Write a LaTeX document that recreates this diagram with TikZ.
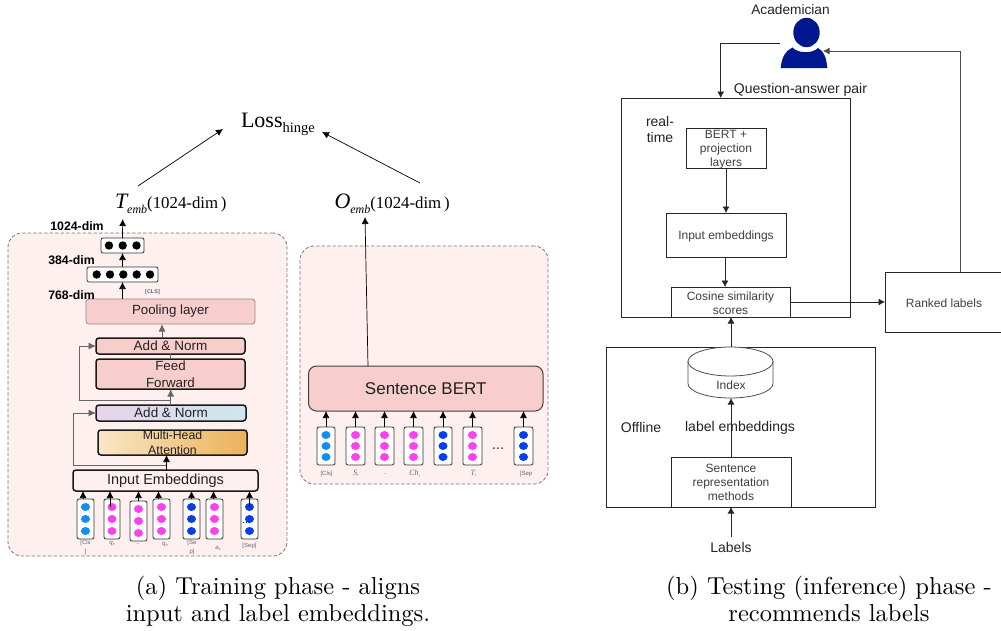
\documentclass[tikz,border=0pt]{standalone}
\usepackage{fontspec}
\setsansfont{Liberation Sans}
\renewcommand{\familydefault}{\sfdefault}
\newfontfamily\serifx{Liberation Serif}
\usetikzlibrary{arrows.meta,shapes.geometric}
\definecolor{panel}{HTML}{FFF0F0}
\definecolor{panelline}{HTML}{777777}
\definecolor{pinkbox}{HTML}{F8CECC}
\definecolor{cdotA}{HTML}{108FF0}
\definecolor{cdotB}{HTML}{FF40F0}
\definecolor{cdotC}{HTML}{0A3CF0}
\definecolor{txt}{HTML}{222222}
\definecolor{tinytxt}{HTML}{666677}
\definecolor{garr}{HTML}{666666}
\definecolor{usr}{HTML}{00188F}
\definecolor{gradAl}{HTML}{E8D4EA}
\definecolor{gradAr}{HTML}{CDE6F0}
\definecolor{gradBl}{HTML}{F9E6C8}
\definecolor{gradBr}{HTML}{EBB25A}
\tikzset{
  x=1pt,y=-1pt,
  every node/.style={inner sep=0pt,outer sep=0pt,text=txt},
  panelbox/.style={draw=panelline,dash pattern=on 3.5pt off 2pt,line width=0.8pt,fill=panel,rounded corners=14pt},
  thickbox/.style={draw=black!90,line width=1.5pt,rounded corners=3pt},
  tokbox/.style={draw=black!80,line width=0.8pt,fill=white,rounded corners=2pt},
  flatbox/.style={draw=black!85,line width=0.8pt,fill=white},
  outerbox/.style={draw=black!85,line width=0.8pt},
  arr/.style={-{Latex[length=7pt,width=7pt]},black,line width=0.7pt},
  garrow/.style={-{Latex[length=7.5pt,width=7pt]},garr,line width=0.9pt},
  plainline/.style={garr,line width=0.9pt},
  flow/.style={-{Latex[length=6.5pt,width=7pt]},black!85,line width=0.75pt},
  tk/.style={font=\fontsize{6}{9}\selectfont,text=tinytxt,align=center},
  sm/.style={font=\fontsize{12}{14}\selectfont,align=center,text=black!75},
  md/.style={font=\fontsize{14}{16}\selectfont,align=center},
  dimlabel/.style={font=\fontsize{12.3}{14}\selectfont\bfseries,text=black},
  captiontxt/.style={font=\rmfamily\fontsize{10}{11.4}\selectfont,text=black},
}
% name, x1,y1,x2,y2, style, text
\newcommand\bx[7]{\node[#6,minimum width={(#4-#2)*1pt},minimum height={(#5-#3)*1pt},align=center] (#1) at ({(#2+#4)/2},{(#3+#5)/2}) {#7};}
% name, x1,y1,x2,y2, three dot colours, dy
\newcommand\tok[9]{\bx{#1}{#2}{#3}{#4}{#5}{tokbox}{}
  \fill[#6] ({(#2+#4)/2},{#3+#9}) ellipse (4.5 and 4);
  \fill[#7] ({(#2+#4)/2},{(#3+#5)/2}) ellipse (4.5 and 4);
  \fill[#8] ({(#2+#4)/2},{#5-#9}) ellipse (4.5 and 4);}
\newcommand\bd[2]{\fill[black] (#1,#2) ellipse (4.2 and 4.2);}
\newcommand\twolines[2]{\scalebox{2.45}{\begin{tabular}{@{}c@{}}#1\\[-0.2pt]#2\end{tabular}}}
\begin{document}
\begin{tikzpicture}
\useasboundingbox (0,0) rectangle (1001,630);
% panels
\bx{leftpanel}{8}{233}{287}{556}{panelbox}{}
\bx{rightpanel}{300}{246}{548}{484}{panelbox}{}
% left stack
\bx{three}{101}{238}{144}{253}{tokbox}{}
\bd{109}{245.5}\bd{122.7}{245.5}\bd{136.5}{245.5}
\bx{five}{87}{267}{158}{282}{tokbox}{}
\bd{96.7}{274.5}\bd{110}{274.5}\bd{123.3}{274.5}\bd{136.7}{274.5}\bd{150}{274.5}
\bx{pool}{86}{299}{255}{324}{draw=black!45,line width=0.8pt,rounded corners=3pt,fill=pinkbox,font=\fontsize{13.3}{16}\selectfont}{\raisebox{-2pt}{Pooling layer}}
\bx{addB}{96}{338}{245}{354}{thickbox,fill=pinkbox,font=\fontsize{13.5}{16}\selectfont}{\raisebox{-1pt}{Add \& Norm}}
\bx{ff}{96}{359}{245}{389}{thickbox,fill=pinkbox,font=\fontsize{13.3}{17}\selectfont}{Feed\\Forward}
\bx{addA}{96}{405}{246}{421}{thickbox,left color=gradAl,right color=gradAr,font=\fontsize{13.5}{16}\selectfont}{\raisebox{-0.5pt}{Add \& Norm}}
\bx{mha}{98}{430}{247}{455}{thickbox,left color=gradBl,right color=gradBr,font=\fontsize{12.3}{14.3}\selectfont}{Multi-Head\\Attention}
\bx{ie}{73}{470}{258}{491}{thickbox,fill=panel,font=\fontsize{14.5}{18}\selectfont}{\raisebox{-0.5pt}{Input Embeddings}}
% left tokens
\tok{la}{77}{499}{94}{539}{cdotA}{cdotA}{cdotA}{8}
\tok{lb}{104}{499}{120}{539}{cdotB}{cdotB}{cdotB}{8}
\tok{lc}{130}{501}{147}{541}{cdotB}{cdotB}{cdotB}{8}
\tok{ld}{153}{499}{170}{539}{cdotB}{cdotB}{cdotB}{8}
\tok{le}{183}{499}{200}{539}{cdotC}{cdotC}{cdotC}{8}
\tok{lf}{206}{499}{223}{539}{cdotB}{cdotB}{cdotB}{8}
\tok{lg}{241}{499}{258}{539}{cdotC}{cdotC}{cdotC}{8}
\node[font=\fontsize{10}{10}\selectfont,text=black] (lgdots) at (246.5,523) {...};
% left token labels
\node[tk] (tla) at (85.5,547) {[Cls\\]};
\node[tk] (tlb) at (112,543) {\textit{q\raisebox{-1pt}{\fontsize{4}{4}\selectfont s}}};
\node[tk] (tlc) at (138,544) {..};
\node[tk] (tld) at (165,544) {\textit{q\raisebox{-1pt}{\fontsize{4}{4}\selectfont n}}};
\node[tk] (tle) at (192,547) {[Se\\p]};
\node[tk] (tlf) at (218,548) {\textit{a\raisebox{-1pt}{\fontsize{4}{4}\selectfont s}}};
\node[tk] (tlg) at (249.5,546) {[Sep]};
\node[font=\fontsize{5.5}{6}\selectfont\bfseries,text=tinytxt] (cls) at (152.5,292) {[CLS]};
\node[dimlabel] (d1024) at (77,226.5) {1024-dim};
\node[dimlabel] (d384) at (71.5,260.5) {384-dim};
\node[dimlabel] (d768) at (71.5,295.5) {768-dim};
% left arrows
\foreach \n/\dx/\inn in {la/-2.5/0,lb/-2/-8,lc/0/0,ld/-3/0,le/0/0,lf/-1/0,lg/0/-8}{
  \draw[arr] ([xshift=\dx pt,yshift=\inn pt]\n.north) -- ([xshift=\dx pt]\n.north |- ie.south);}
\draw[arr] (five.south |- pool.north) -- (five.south);
\draw[arr] (three.south |- five.north) -- (three.south);
\coordinate (toptip) at (122.7,219);
\draw[arr] (three.north) -- (toptip);
\draw[garrow] ([xshift=-8.5pt]pool.south |- addB.north) -- ([xshift=-8.5pt]pool.south);
\draw[plainline] (ff.north) -- (addB.south);
\coordinate (ieUp) at (166.5,470);
\coordinate (ieSide) at (166,465);
\coordinate (leftA) at (73.5,465);
\draw[arr] (ieUp) -- (ieUp |- mha.south);
\draw[garrow] (ieSide) -- (leftA) -- (leftA |- addA.west) -- (addA.west);
\coordinate (addUp) at (170.7,405);
\coordinate (addSide) at (170.7,400.7);
\coordinate (leftB) at (79.3,400.7);
\draw[garrow] (addUp) -- (addUp |- ff.south);
\draw[garrow] (addSide) -- (leftB) -- (leftB |- addB.west) -- (addB.west);
% right panel
\bx{sbert}{308.5}{366}{543}{411}{draw=black!75,line width=1pt,rounded corners=8pt,fill=pinkbox,font=\fontsize{17}{20}\selectfont}{Sentence BERT}
\tok{ra}{317}{427}{335}{465}{cdotA}{cdotA}{cdotA}{8}
\tok{rb}{346}{427}{365}{465}{cdotB}{cdotB}{cdotB}{8}
\tok{rc}{375}{427}{394}{465}{cdotB}{cdotB}{cdotB}{8}
\tok{rd}{404}{427}{423}{465}{cdotB}{cdotB}{cdotB}{8}
\tok{re}{434}{427}{452}{465}{cdotC}{cdotC}{cdotC}{8}
\tok{rf}{463}{427}{482}{465}{cdotB}{cdotB}{cdotB}{8}
\tok{rg}{514}{427}{533}{465}{cdotC}{cdotC}{cdotC}{8}
\foreach \n in {ra,rb,rc,rd,re,rf,rg}{
  \draw[arr] (\n.north) -- (\n.north |- sbert.south);}
\node[tk] (tra) at (326.5,473.5) {[Cls]};
\node[tk,font=\serifx\fontsize{8}{9}\selectfont] (trb) at (356,473.5) {\textit{S\raisebox{-1.5pt}{\fontsize{4}{4}\selectfont i}}};
\node[tk] (trc) at (385,474) {..};
\node[tk,font=\serifx\fontsize{8}{9}\selectfont] (trd) at (414.5,473.5) {\textit{Ch\raisebox{-1.5pt}{\fontsize{4}{4}\selectfont i}}};
\node[tk,font=\serifx\fontsize{8}{9}\selectfont] (tre) at (473.5,473.5) {\textit{T\raisebox{-1.5pt}{\fontsize{4}{4}\selectfont i}}};
\node[tk] (trf) at (526,473.5) {[Sep};
\node[font=\fontsize{15}{16}\selectfont,text=black!80] (rdots) at (498,449) {...};
% embedding labels
\node[anchor=base west,font=\serifx\fontsize{16.8}{17}\selectfont,text=black] (temb) at (115,208) {{\fontsize{22}{22}\selectfont\itshape T}\raisebox{-5pt}{\fontsize{12}{12}\selectfont\itshape emb}(1024-dim\,)};
\node[anchor=base west,font=\serifx\fontsize{16.8}{17}\selectfont,text=black] (oemb) at (334.5,208) {{\fontsize{22}{22}\selectfont\itshape O}\raisebox{-5pt}{\fontsize{12}{12}\selectfont\itshape emb}(1024-dim\,)};
\node[anchor=base west,font=\serifx\fontsize{22}{22}\selectfont,text=black] (loss) at (241,127) {Loss\raisebox{-5pt}{\fontsize{14.5}{15}\selectfont hinge}};
\coordinate (lossL) at (223,129);
\coordinate (lossR) at (322,132);
\coordinate (tembOut) at (138,186);
\coordinate (oembOut) at (420,183);
\coordinate (sbertOut) at (368,366);
\coordinate (oembIn) at (365,217);
\draw[arr] (tembOut) -- (lossL);
\draw[arr] (oembOut) -- (lossR);
\draw[arr] (sbertOut) -- (oembIn);
% right diagram: outer boxes
\bx{rt}{621.5}{98}{850}{317}{outerbox}{}
\bx{off}{606.5}{347}{875}{507}{outerbox}{}
\bx{bert}{686}{128}{766}{168}{flatbox}{}
\bx{inemb}{666}{213}{786}{257}{flatbox}{}
\bx{cos}{671}{287}{790}{317}{flatbox}{}
\bx{rank}{885}{272}{1012}{332}{flatbox}{}
\bx{srm}{671}{457}{791}{507}{flatbox}{}
\node[sm] (berttxt) at (726,149.5) {BERT +\\projection\\layers};
\node[sm] (inembtxt) at (726,236.5) {Input embeddings};
\node[sm] (costxt) at (730.5,303) {Cosine similarity\\scores};
\node[sm] (ranktxt) at (944,303) {Ranked labels};
\node[sm] (srmtxt) at (731,482) {Sentence\\representation\\methods};
\node[md] (qa) at (800.5,89.5) {Question-answer pair};
\node[md] (realt) at (660,129) {real-\\time};
\node[md] (offl) at (641,427.5) {Offline};
\node[md] (lblemb) at (740,427.5) {label embeddings};
\node[md] (labs) at (731,547) {Labels};
\node[font=\fontsize{13.7}{14}\selectfont] (acad) at (790.5,9.5) {Academician};
% cylinder
\node[minimum width=85pt,minimum height=51pt] (idx) at (730.5,372.5) {};
\path[draw=black!70,line width=0.8pt,fill=white] (688,361.5) -- (688,383.5) arc[start angle=180,end angle=0,x radius=42.5,y radius=14.5] -- (773,361.5) -- cycle;
\draw[black!70,line width=0.8pt,fill=white] (730.5,361.5) ellipse (42.5 and 14.5);
\node[sm] (idxt) at (731,385) {Index};
% person
\fill[usr] (806.5,32.5) ellipse (13.2 and 14.7);
\fill[usr] (780.7,68) .. controls (781.5,57) and (786,50.5) .. (792.5,47.5) .. controls (798,53.5) and (812,54) .. (818,48) .. controls (824,51) and (826.5,58) .. (827.3,68) -- cycle;
\coordinate (userOut) at (780,43);
\coordinate (userIn) at (823,51);
\coordinate (downX) at (720.7,43);
\draw[flow] (userOut) -- (downX) -- (downX |- rt.north);
\coordinate (rankUp) at (960,272);
\draw[flow,black!70] (rankUp) -- (rankUp |- userIn) -- (userIn);
\draw[flow] (bert.south) -- (bert.south |- inemb.north);
\draw[flow] ([xshift=-1pt]inemb.south) -- ([xshift=-1pt]inemb.south |- cos.north);
\draw[flow] (cos.east) -- (cos.east -| rank.west);
\coordinate (idxX) at (731,347);
\draw[flow] (idxX) -- (idxX |- cos.south);
\coordinate (srmUp) at (731,457);
\draw[flow] (srmUp) -- (srmUp |- idx.south);
\coordinate (labUp) at (731,537);
\draw[flow] (labUp) -- (labUp |- srm.south);
% captions
\node[captiontxt] (capa) at (278,602.5) {\twolines{(a) Training phase - aligns}{input and label embeddings.}};
\node[captiontxt] (capb) at (829,602.5) {\twolines{(b) Testing (inference) phase -}{recommends labels}};
\end{tikzpicture}
\end{document}
